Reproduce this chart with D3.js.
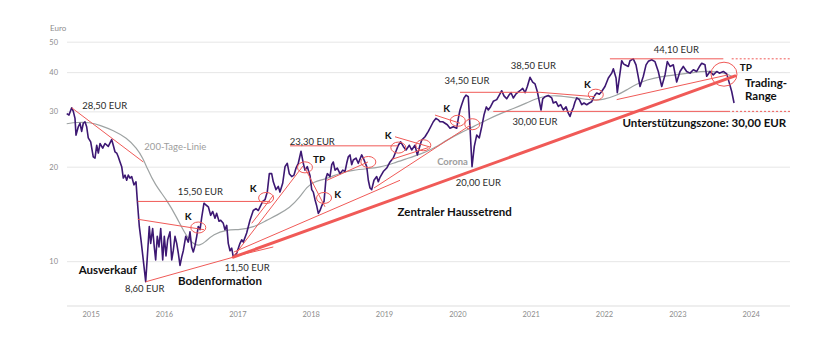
<!DOCTYPE html>
<html>
<head>
<meta charset="utf-8">
<script src="https://cdn.jsdelivr.net/npm/d3@7"></script>
<style>
  html, body { margin: 0; padding: 0; background: #fff; }
  svg { display: block; }
  text { font-family: Lato, "Open Sans", "DejaVu Sans", sans-serif; }
</style>
</head>
<body>
<svg id="chart" width="840" height="341"></svg>
<script>
// ---- Data -------------------------------------------------------------
// Share price in EUR, [year as decimal, price]
const sharePrice = [
  [2014.673,29.5],[2014.704,29.2],[2014.741,30.8],[2014.763,30.0],[2014.786,28.5],[2014.800,25.2],[2014.831,26.8],
  [2014.854,27.5],[2014.877,25.9],[2014.899,27.5],[2014.922,27.8],[2014.945,26.8],[2014.967,24.7],[2015.000,24.0],
  [2015.035,21.5],[2015.059,21.3],[2015.082,23.4],[2015.104,22.1],[2015.127,23.7],[2015.164,22.9],[2015.195,23.7],
  [2015.240,23.2],[2015.286,24.4],[2015.308,23.4],[2015.331,22.3],[2015.355,22.1],[2015.376,21.5],[2015.400,20.7],
  [2015.423,20.0],[2015.445,18.4],[2015.468,18.8],[2015.491,18.1],[2015.513,18.8],[2015.536,18.4],[2015.559,18.6],
  [2015.590,17.5],[2015.618,17.9],[2015.635,15.7],[2015.663,12.9],[2015.686,11.7],[2015.717,10.1],[2015.750,8.6],
  [2015.772,10.3],[2015.799,12.9],[2015.818,11.4],[2015.845,12.7],[2015.867,11.1],[2015.886,10.1],[2015.908,12.0],
  [2015.931,11.1],[2015.955,12.7],[2015.982,10.1],[2016.004,12.0],[2016.027,10.4],[2016.050,11.7],[2016.081,12.4],
  [2016.105,10.1],[2016.126,10.8],[2016.150,12.0],[2016.173,11.4],[2016.195,10.6],[2016.218,9.7],[2016.241,10.3],
  [2016.263,10.8],[2016.296,12.0],[2016.331,11.5],[2016.354,12.4],[2016.377,11.1],[2016.399,10.7],[2016.422,11.2],
  [2016.446,12.0],[2016.467,12.9],[2016.491,12.6],[2016.514,13.8],[2016.545,15.3],[2016.572,15.1],[2016.604,14.9],
  [2016.636,14.0],[2016.664,14.4],[2016.695,13.7],[2016.718,14.2],[2016.750,13.4],[2016.773,13.5],[2016.808,13.2],
  [2016.831,12.6],[2016.855,13.0],[2016.876,11.4],[2016.900,10.8],[2016.923,11.0],[2016.945,10.3],[2016.991,10.6],
  [2017.036,11.4],[2017.059,11.7],[2017.081,11.5],[2017.127,12.3],[2017.172,13.5],[2017.217,14.5],[2017.254,14.7],
  [2017.286,14.5],[2017.309,14.9],[2017.346,15.5],[2017.377,15.7],[2017.408,16.6],[2017.436,19.0],[2017.468,19.0],
  [2017.490,17.9],[2017.527,16.9],[2017.558,17.3],[2017.581,16.6],[2017.618,17.7],[2017.650,20.0],[2017.681,20.5],
  [2017.708,19.0],[2017.741,18.6],[2017.772,18.8],[2017.800,19.8],[2017.831,20.5],[2017.868,22.4],[2017.899,20.5],
  [2017.922,19.5],[2017.954,20.0],[2017.991,18.7],[2018.014,16.9],[2018.036,16.6],[2018.059,15.7],[2018.082,15.0],
  [2018.104,14.2],[2018.127,14.5],[2018.150,15.0],[2018.182,15.5],[2018.209,18.4],[2018.227,19.0],[2018.263,18.6],
  [2018.287,20.3],[2018.308,20.7],[2018.332,19.5],[2018.363,19.8],[2018.400,19.0],[2018.437,19.5],[2018.468,19.3],
  [2018.491,20.5],[2018.513,21.5],[2018.536,21.8],[2018.559,20.3],[2018.581,21.0],[2018.618,21.3],[2018.649,20.5],
  [2018.696,21.8],[2018.717,21.3],[2018.764,20.0],[2018.786,18.1],[2018.809,17.1],[2018.832,16.9],[2018.863,18.1],
  [2018.900,18.6],[2018.922,17.9],[2018.945,18.5],[2018.990,19.3],[2019.037,19.8],[2019.082,20.7],[2019.126,21.3],
  [2019.163,22.4],[2019.195,23.4],[2019.227,24.0],[2019.263,23.2],[2019.300,22.6],[2019.345,23.4],[2019.377,22.6],
  [2019.422,23.4],[2019.454,21.8],[2019.491,23.4],[2019.514,24.3],[2019.559,24.9],[2019.604,25.9],[2019.637,26.8],
  [2019.672,27.8],[2019.709,28.5],[2019.740,28.2],[2019.763,27.8],[2019.800,27.8],[2019.832,27.5],[2019.863,27.2],
  [2019.900,26.5],[2019.945,26.8],[2019.991,26.5],[2020.013,28.5],[2020.036,30.3],[2020.059,31.5],[2020.091,33.1],
  [2020.118,33.8],[2020.149,33.4],[2020.172,26.8],[2020.200,20.0],[2020.231,23.2],[2020.264,25.2],[2020.299,24.7],
  [2020.332,26.8],[2020.363,29.2],[2020.395,31.0],[2020.422,30.3],[2020.455,31.1],[2020.490,32.3],[2020.537,32.7],
  [2020.572,33.8],[2020.605,34.9],[2020.636,33.6],[2020.673,32.9],[2020.704,33.8],[2020.732,34.4],[2020.763,33.1],
  [2020.800,34.1],[2020.854,34.9],[2020.891,35.5],[2020.923,34.4],[2020.954,36.0],[2020.991,38.5],[2021.027,37.2],
  [2021.059,36.7],[2021.090,34.7],[2021.118,32.2],[2021.141,30.3],[2021.164,32.9],[2021.195,33.4],[2021.240,33.7],
  [2021.287,33.1],[2021.308,31.9],[2021.345,32.2],[2021.377,31.1],[2021.409,31.5],[2021.445,30.3],[2021.482,31.0],
  [2021.513,29.6],[2021.536,28.9],[2021.559,30.0],[2021.581,30.8],[2021.605,32.2],[2021.628,33.1],[2021.663,32.7],
  [2021.696,31.5],[2021.727,31.9],[2021.764,31.5],[2021.799,31.9],[2021.832,32.2],[2021.854,33.1],[2021.877,33.8],
  [2021.900,34.3],[2021.936,34.0],[2021.968,34.7],[2022.013,36.0],[2022.059,38.3],[2022.105,39.7],[2022.127,41.0],
  [2022.164,38.3],[2022.181,34.4],[2022.218,39.7],[2022.241,43.5],[2022.266,42.5],[2022.286,42.2],[2022.331,41.7],
  [2022.354,43.5],[2022.399,44.1],[2022.436,42.2],[2022.464,39.0],[2022.491,36.0],[2022.536,38.8],[2022.573,42.2],
  [2022.604,43.3],[2022.650,43.8],[2022.695,43.2],[2022.740,40.2],[2022.787,36.0],[2022.832,39.2],[2022.863,43.2],
  [2022.900,41.7],[2022.945,42.2],[2022.991,37.2],[2023.036,40.2],[2023.081,41.7],[2023.127,40.2],[2023.173,39.7],
  [2023.218,40.7],[2023.264,40.2],[2023.299,41.6],[2023.332,42.7],[2023.377,42.2],[2023.400,38.8],[2023.445,40.2],
  [2023.490,39.2],[2023.537,40.2],[2023.572,39.7],[2023.627,40.2],[2023.673,39.5],[2023.709,36.9],[2023.741,34.7],
  [2023.773,31.9]
];

// 200-day moving average in EUR
const movingAverage200 = [
  [2014.673,27.4],[2014.809,27.7],[2014.990,27.7],[2015.127,27.1],[2015.308,26.1],[2015.491,24.7],[2015.627,22.9],
  [2015.717,21.2],[2015.764,19.9],[2015.877,17.5],[2016.036,15.7],[2016.173,13.8],[2016.286,12.2],[2016.399,11.3],
  [2016.491,11.2],[2016.559,11.5],[2016.672,12.2],[2016.855,12.6],[2017.036,12.6],[2017.217,12.8],[2017.400,13.5],
  [2017.536,14.0],[2017.718,14.8],[2017.854,16.0],[2017.946,17.2],[2018.036,17.9],[2018.218,18.3],[2018.400,19.1],
  [2018.581,19.5],[2018.764,19.7],[2018.945,19.9],[2019.126,20.5],[2019.309,21.2],[2019.491,21.9],[2019.672,22.8],
  [2019.855,24.3],[2020.036,25.6],[2020.218,26.8],[2020.400,28.2],[2020.582,29.5],[2020.763,30.6],[2020.946,31.9],
  [2021.082,33.0],[2021.218,33.6],[2021.355,33.7],[2021.491,33.4],[2021.673,33.0],[2021.854,32.5],[2021.990,32.7],
  [2022.173,33.7],[2022.309,35.1],[2022.446,36.7],[2022.582,37.8],[2022.764,38.7],[2022.991,39.3],[2023.218,39.9],
  [2023.400,40.3],[2023.537,40.1],[2023.673,39.5],[2023.763,38.6]
];

const yearTicks = [2015, 2016, 2017, 2018, 2019, 2020, 2021, 2022, 2023, 2024];
const euroTicks = [10, 20, 30, 40, 50];

// Chart-technical annotations, in [year, EUR]
const thinTrendLines = [
  [[2014.741, 30.8], [2015.717, 20.7]],
  [[2015.641, 13.6], [2016.545, 12.6]],
  [[2015.750, 8.6],  [2016.945, 10.3]],
  [[2016.954, 10.4], [2017.895, 20.1]],
  [[2017.196, 13.2], [2017.490, 16.2]],
  [[2016.954, 10.7], [2019.218, 18.1]],
  [[2016.991, 10.4], [2017.490, 11.1]],
  [[2017.922, 19.8], [2018.195, 14.9]],
  [[2018.222, 18.1], [2018.781, 20.7]],
  [[2019.150, 24.9], [2019.627, 23.1]],
  [[2019.105, 21.1], [2019.604, 23.0]],
  [[2018.863, 17.1], [2020.186, 27.2]],
  [[2019.695, 29.2], [2020.036, 27.5]],
  [[2021.127, 34.5], [2021.877, 33.4]],
  [[2022.173, 32.7], [2023.691, 39.2]]
];
const centralUptrend = [[2016.945, 10.3], [2023.788, 38.9]];

// Horizontal resistance / support levels: [EUR, from year, to year]
const solidLevels = [
  [15.5, 2015.641, 2017.445],
  [23.3, 2017.718, 2019.191],
  [34.5, 2020.036, 2021.127],
  [30.0, 2020.490, 2023.691],
  [44.1, 2022.080, 2023.627]
];
const projectedLevels = [
  [30.0, 2023.691, 2024.536],
  [44.1, 2023.741, 2024.536]
];

// Signal rings (breakouts "K", turning points "TP"), [year, EUR]
const signalRings = [
  [2016.467, 12.8], [2017.392, 15.9], [2017.922, 19.9], [2018.182, 15.9], [2018.786, 20.7],
  [2019.195, 23.0], [2019.536, 23.4], [2020.006, 28.0], [2020.203, 27.3], [2021.888, 33.9]
];
const topRing = [2023.636, 39.4];

// Text annotations: [text, year, EUR]
const valueLabels = [
  ["28,50 EUR", 2015.191, 31.3],
  ["15,50 EUR", 2016.495, 16.6],
  ["8,60 EUR", 2015.736, 8.18],
  ["11,50 EUR", 2017.134, 9.55],
  ["23,30 EUR", 2018.022, 24.0],
  ["34,50 EUR", 2020.132, 37.5],
  ["38,50 EUR", 2021.036, 42.0],
  ["30,00 EUR", 2021.059, 27.8],
  ["20,00 EUR", 2020.286, 17.8],
  ["44,10 EUR", 2022.986, 47.1]
];
const signalLabels = [
  ["K", 2016.331, 13.9], ["K", 2017.217, 16.98], ["TP", 2018.116, 21.1], ["K", 2018.368, 16.3],
  ["K", 2019.058, 25.1], ["K", 2019.855, 30.7], ["K", 2021.772, 36.5], ["TP", 2023.934, 41.4]
];
const noteLabels = [
  ["Ausverkauf", 2015.233, 9.4],
  ["Bodenformation", 2016.763, 8.63],
  ["Zentraler Haussetrend", 2019.964, 14.3],
  ["Unterstützungszone: 30,00 EUR", 2023.368, 27.5]
];
const sideLabels = [
  ["Trading-", 2023.923, 36.9],
  ["Range", 2023.923, 33.6]
];
const mutedLabels = [
  ["200-Tage-Linie", 2016.154, 23.1, "normal"],
  ["Corona", 2019.934, 20.7, "bold"]
];

// ---- Scales -----------------------------------------------------------
const svg = d3.select("#chart");
const left = 67, right = 790;
const x = d3.scaleLinear().domain([2014.677, 2024.536]).range([left, right]);
const y = d3.scaleLog().domain([7.2, 50]).range([306, 41.7]);

const RED = "#f05a57";
const PURPLE = "#3d1873";

// ---- Axes & grid ------------------------------------------------------
const yAxis = svg.append("g")
  .attr("transform", `translate(${left},0)`)
  .call(d3.axisLeft(y).tickValues(euroTicks).tickFormat(d3.format("d"))
    .tickSize(-(right - left)).tickPadding(9));
yAxis.select(".domain").remove();
yAxis.selectAll("line").attr("stroke", "#e6e6e6").attr("stroke-width", 1);
yAxis.selectAll("text").attr("fill", "#8c8c8c").style("font-size", "7.5px");

svg.append("text")
  .attr("x", left - 17).attr("y", y(50) - 11)
  .attr("fill", "#8c8c8c").style("font-size", "8px")
  .text("Euro");

svg.append("line")
  .attr("x1", left).attr("x2", right)
  .attr("y1", y.range()[0]).attr("y2", y.range()[0])
  .attr("stroke", "#eeeeee").attr("stroke-width", 2);

const xAxis = svg.append("g")
  .attr("transform", `translate(0,${y.range()[0]})`)
  .call(d3.axisBottom(x).tickValues(yearTicks).tickFormat(d3.format("d"))
    .tickSize(0).tickPadding(6));
xAxis.select(".domain").remove();
xAxis.selectAll("text").attr("fill", "#8c8c8c").style("font-size", "7.5px");

// ---- Series -----------------------------------------------------------
const line = d3.line().x(d => x(d[0])).y(d => y(d[1]));

svg.append("path")
  .datum(movingAverage200)
  .attr("d", line.curve(d3.curveBasis))
  .attr("fill", "none").attr("stroke", "#9ea3a3").attr("stroke-width", 1.2);

svg.append("path")
  .datum(sharePrice)
  .attr("d", d3.line().x(d => x(d[0])).y(d => y(d[1]))(sharePrice))
  .attr("fill", "none").attr("stroke", PURPLE).attr("stroke-width", 1.6)
  .attr("stroke-linejoin", "round");

// ---- Annotations ------------------------------------------------------
const straight = d3.line().x(d => x(d[0])).y(d => y(d[1]));
const ann = svg.append("g");

ann.selectAll(".thin").data(thinTrendLines).join("path")
  .attr("d", straight).attr("fill", "none")
  .attr("stroke", RED).attr("stroke-width", 1);

ann.append("path").datum(centralUptrend)
  .attr("d", straight).attr("fill", "none")
  .attr("stroke", RED).attr("stroke-width", 3).attr("stroke-linecap", "round");

ann.selectAll(".level").data(solidLevels).join("line")
  .attr("x1", d => x(d[1])).attr("x2", d => x(d[2]))
  .attr("y1", d => y(d[0])).attr("y2", d => y(d[0]))
  .attr("stroke", RED).attr("stroke-width", 1);

ann.selectAll(".projected").data(projectedLevels).join("line")
  .attr("x1", d => x(d[1])).attr("x2", d => x(d[2]))
  .attr("y1", d => y(d[0])).attr("y2", d => y(d[0]))
  .attr("stroke", RED).attr("stroke-width", 1).attr("stroke-dasharray", "2,2");

ann.selectAll(".ring").data(signalRings).join("ellipse")
  .attr("cx", d => x(d[0])).attr("cy", d => y(d[1]))
  .attr("rx", 7.5).attr("ry", 5.5)
  .attr("fill", "none").attr("stroke", RED).attr("stroke-width", 1);

ann.append("ellipse")
  .attr("cx", x(topRing[0])).attr("cy", y(topRing[1]))
  .attr("rx", 13).attr("ry", 12)
  .attr("fill", "none").attr("stroke", RED).attr("stroke-width", 1);

// ---- Labels -----------------------------------------------------------
function addLabels(rows, opts) {
  svg.append("g").selectAll("text").data(rows).join("text")
    .attr("x", d => x(d[1])).attr("y", d => y(d[2]))
    .attr("dy", "0.35em")
    .attr("text-anchor", opts.anchor || "middle")
    .attr("fill", opts.color)
    .style("font-size", opts.size)
    .style("font-weight", d => d[3] || opts.weight)
    .text(d => d[0]);
}
addLabels(valueLabels, { color: "#2b2b2b", size: "9.5px", weight: "normal" });
addLabels(signalLabels, { color: "#111", size: "10px", weight: "bold" });
addLabels(noteLabels, { color: "#111", size: "11.5px", weight: "bold" });
addLabels(sideLabels, { color: "#111", size: "11.5px", weight: "bold", anchor: "start" });
addLabels(mutedLabels, { color: "#9d9d9d", size: "9.5px", weight: "normal" });
</script>
</body>
</html>
